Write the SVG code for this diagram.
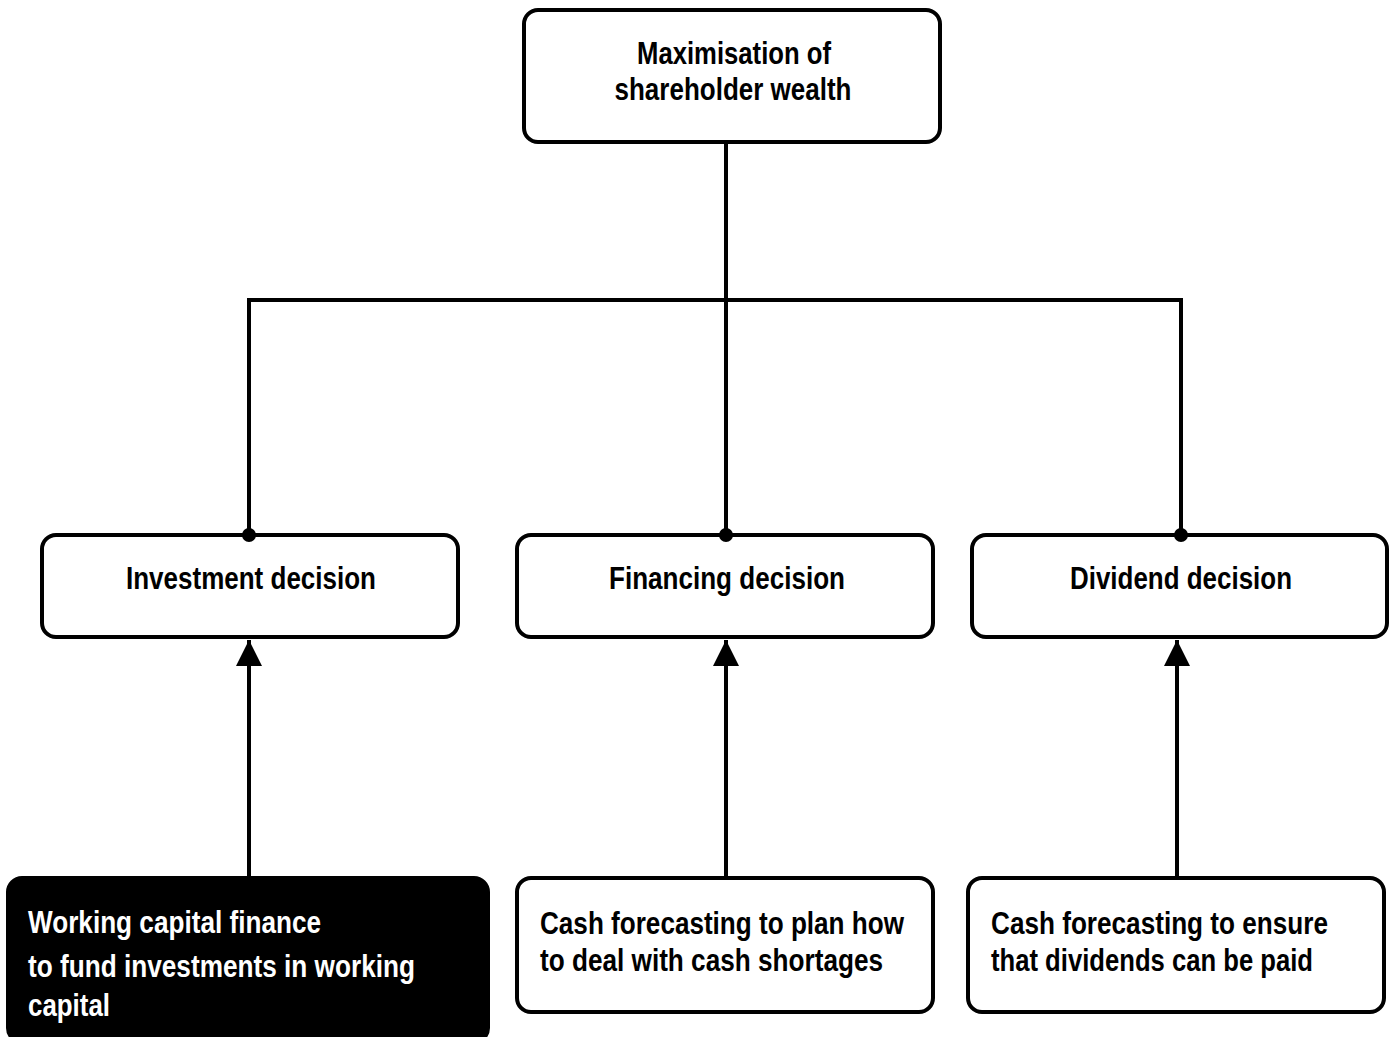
<svg xmlns="http://www.w3.org/2000/svg" width="1396" height="1037" viewBox="0 0 1396 1037">
<style>
.box{fill:#fff;stroke:#000;stroke-width:4}
.dark{fill:#000;stroke:#000;stroke-width:4}
.t{font-family:"Liberation Sans",Arial,sans-serif;font-weight:bold;font-size:32px;fill:#000}
.c{text-anchor:middle}
.w{fill:#fff}
.ln{fill:none;stroke:#000;stroke-width:4}
</style>
<defs>
<marker id="arr" viewBox="0 0 10 10" refX="10" refY="5" markerWidth="26" markerHeight="26" markerUnits="userSpaceOnUse" orient="auto">
<path d="M0,0 L10,5 L0,10 Z" fill="#000"/>
</marker>
</defs>
<rect width="1396" height="1037" fill="#fff"/>
<g id="n-top">
<rect class="box" x="524" y="10" width="416" height="132" rx="14"/>
<text class="t c" transform="scale(0.8,1)" x="917.5" y="64" textLength="242.5" lengthAdjust="spacingAndGlyphs">Maximisation of</text>
<text class="t c" transform="scale(0.8,1)" x="916.25" y="100" textLength="296.25" lengthAdjust="spacingAndGlyphs">shareholder wealth</text>
</g>
<g id="n-investment">
<rect class="box" x="42" y="535" width="416" height="102" rx="14"/>
<text class="t c" transform="scale(0.8,1)" x="313.75" y="589" textLength="312.5" lengthAdjust="spacingAndGlyphs">Investment decision</text>
</g>
<g id="n-financing">
<rect class="box" x="517" y="535" width="416" height="102" rx="14"/>
<text class="t c" transform="scale(0.8,1)" x="908.75" y="589" textLength="295" lengthAdjust="spacingAndGlyphs">Financing decision</text>
</g>
<g id="n-dividend">
<rect class="box" x="972" y="535" width="415" height="102" rx="14"/>
<text class="t c" transform="scale(0.8,1)" x="1476.25" y="589" textLength="277.5" lengthAdjust="spacingAndGlyphs">Dividend decision</text>
</g>
<g id="n-working">
<rect class="dark" x="8" y="878" width="480" height="164" rx="14"/>
<text class="t w" transform="scale(0.8,1)" x="35" y="933" textLength="366.25" lengthAdjust="spacingAndGlyphs">Working capital finance</text>
<text class="t w" transform="scale(0.8,1)" x="35" y="977" textLength="483.75" lengthAdjust="spacingAndGlyphs">to fund investments in working</text>
<text class="t w" transform="scale(0.8,1)" x="35" y="1016" textLength="102.5" lengthAdjust="spacingAndGlyphs">capital</text>
</g>
<g id="n-cash-plan">
<rect class="box" x="517" y="878" width="416" height="134" rx="14"/>
<text class="t" transform="scale(0.8,1)" x="675" y="934" textLength="455" lengthAdjust="spacingAndGlyphs">Cash forecasting to plan how</text>
<text class="t" transform="scale(0.8,1)" x="675" y="971" textLength="428.75" lengthAdjust="spacingAndGlyphs">to deal with cash shortages</text>
</g>
<g id="n-cash-div">
<rect class="box" x="968" y="878" width="416" height="134" rx="14"/>
<text class="t" transform="scale(0.8,1)" x="1238.75" y="934" textLength="421.25" lengthAdjust="spacingAndGlyphs">Cash forecasting to ensure</text>
<text class="t" transform="scale(0.8,1)" x="1238.75" y="971" textLength="402.5" lengthAdjust="spacingAndGlyphs">that dividends can be paid</text>
</g>
<g id="connectors">
<path class="ln" d="M726,142 V535"/>
<path class="ln" d="M249,535 V300 H1181 V535"/>
<circle cx="249" cy="535" r="7"/>
<circle cx="726" cy="535" r="7"/>
<circle cx="1181" cy="535" r="7"/>
<line class="ln" x1="249" y1="878" x2="249" y2="640" marker-end="url(#arr)"/>
<line class="ln" x1="726" y1="878" x2="726" y2="640" marker-end="url(#arr)"/>
<line class="ln" x1="1177" y1="878" x2="1177" y2="640" marker-end="url(#arr)"/>
</g>
</svg>
